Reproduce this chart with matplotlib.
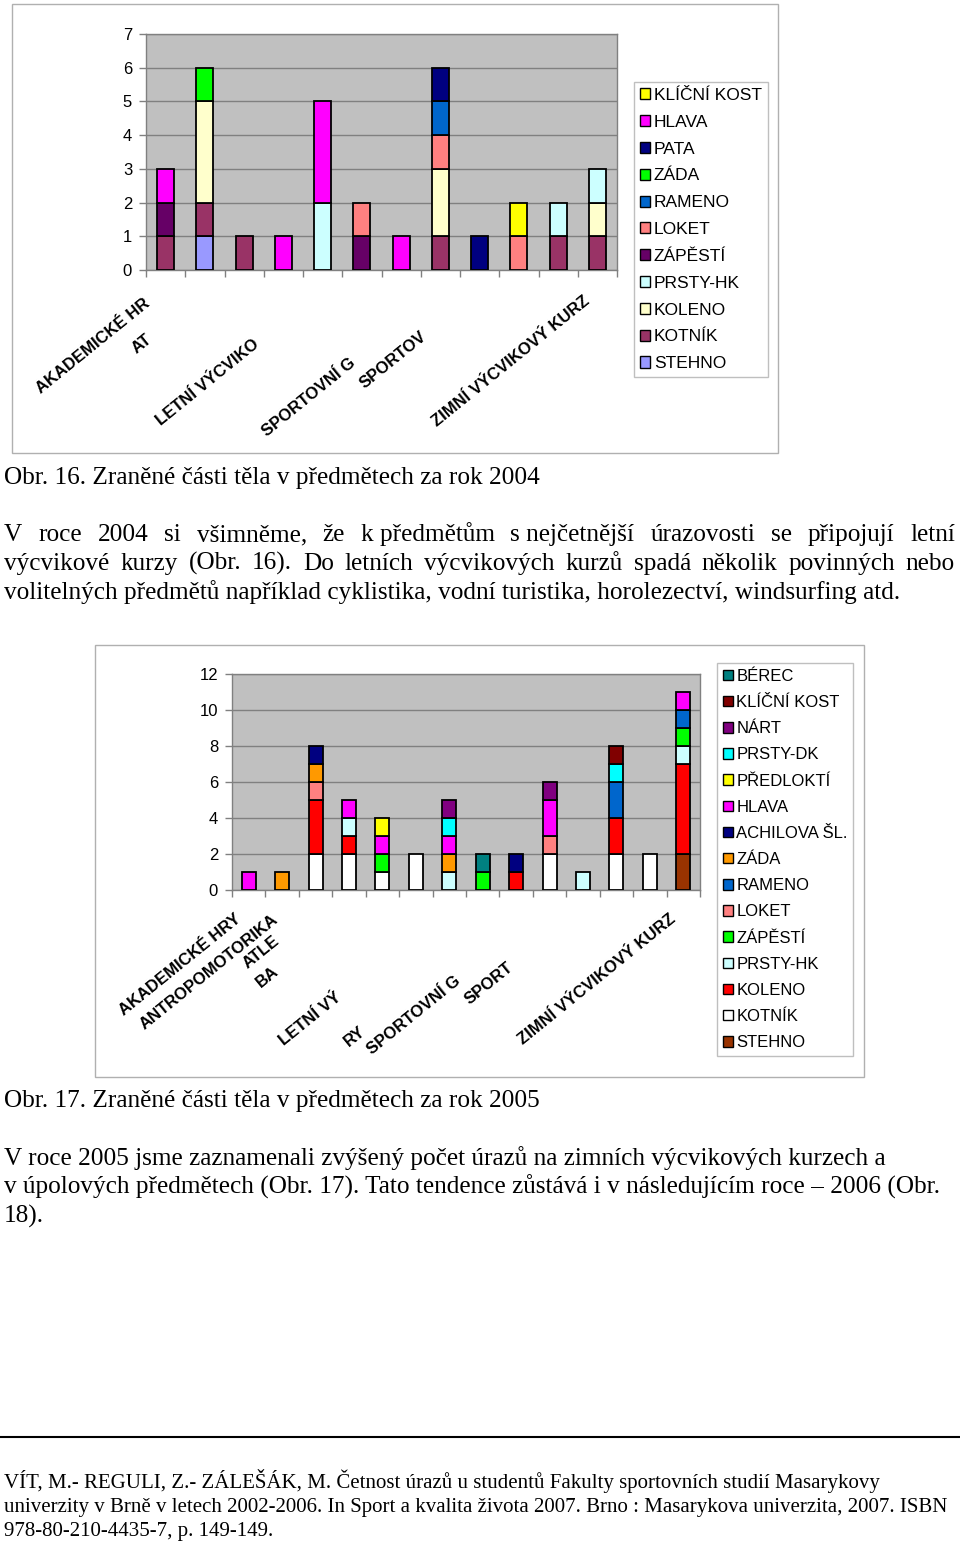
import numpy as np
import matplotlib
matplotlib.use("Agg")
import matplotlib.pyplot as plt
from matplotlib.patches import Rectangle, Patch

W, H = 960, 1541

# ---- graf 2004 (obr. 16), serie od spodu nahoru
cats04_n = 12
s04_names = ["STEHNO", "KOTNÍK", "KOLENO", "PRSTY-HK", "ZÁPĚSTÍ", "LOKET",
             "RAMENO", "ZÁDA", "PATA", "HLAVA", "KLÍČNÍ KOST"]
s04_colors = ["#9999FF", "#993366", "#FFFFCC", "#CCFFFF", "#660066", "#FF8080",
              "#0066CC", "#00FF00", "#000080", "#FF00FF", "#FFFF00"]
stehno04 = [0, 1, 0, 0, 0, 0, 0, 0, 0, 0, 0, 0]
kotnik04 = [1, 1, 1, 0, 0, 0, 0, 1, 0, 0, 1, 1]
koleno04 = [0, 3, 0, 0, 0, 0, 0, 2, 0, 0, 0, 1]
prstyhk04 = [0, 0, 0, 0, 2, 0, 0, 0, 0, 0, 1, 1]
zapesti04 = [1, 0, 0, 0, 0, 1, 0, 0, 0, 0, 0, 0]
loket04 = [0, 0, 0, 0, 0, 1, 0, 1, 0, 1, 0, 0]
rameno04 = [0, 0, 0, 0, 0, 0, 0, 1, 0, 0, 0, 0]
zada04 = [0, 1, 0, 0, 0, 0, 0, 0, 0, 0, 0, 0]
pata04 = [0, 0, 0, 0, 0, 0, 0, 1, 1, 0, 0, 0]
hlava04 = [1, 0, 0, 1, 3, 0, 1, 0, 0, 0, 0, 0]
klicni04 = [0, 0, 0, 0, 0, 0, 0, 0, 0, 1, 0, 0]
s04 = [stehno04, kotnik04, koleno04, prstyhk04, zapesti04, loket04,
       rameno04, zada04, pata04, hlava04, klicni04]
lab04 = ["AKADEMICKÉ HR", "AT", "LETNÍ VÝCVIKO", "SPORTOVNÍ G", "SPORTOV",
         "ZIMNÍ VÝCVIKOVÝ KURZ"]

# ---- graf 2005 (obr. 17)
cats05_n = 14
s05_names = ["STEHNO", "KOTNÍK", "KOLENO", "PRSTY-HK", "ZÁPĚSTÍ", "LOKET",
             "RAMENO", "ZÁDA", "ACHILOVA ŠL.", "HLAVA", "PŘEDLOKTÍ",
             "PRSTY-DK", "NÁRT", "KLÍČNÍ KOST", "BÉREC"]
s05_colors = ["#993300", "#FFFFFF", "#FF0000", "#CCFFFF", "#00FF00", "#FF8080",
              "#0066CC", "#FF9900", "#000080", "#FF00FF", "#FFFF00",
              "#00FFFF", "#800080", "#800000", "#008080"]
stehno05 = [0, 0, 0, 0, 0, 0, 0, 0, 0, 0, 0, 0, 0, 2]
kotnik05 = [0, 0, 2, 2, 1, 2, 0, 0, 0, 2, 0, 2, 2, 0]
koleno05 = [0, 0, 3, 1, 0, 0, 0, 0, 1, 0, 0, 2, 0, 5]
prstyhk05 = [0, 0, 0, 1, 0, 0, 1, 0, 0, 0, 1, 0, 0, 1]
zapesti05 = [0, 0, 0, 0, 1, 0, 0, 1, 0, 0, 0, 0, 0, 1]
loket05 = [0, 0, 1, 0, 0, 0, 0, 0, 0, 1, 0, 0, 0, 0]
rameno05 = [0, 0, 0, 0, 0, 0, 0, 0, 0, 0, 0, 2, 0, 1]
zada05 = [0, 1, 1, 0, 0, 0, 1, 0, 0, 0, 0, 0, 0, 0]
achilova05 = [0, 0, 1, 0, 0, 0, 0, 0, 1, 0, 0, 0, 0, 0]
hlava05 = [1, 0, 0, 1, 1, 0, 1, 0, 0, 2, 0, 0, 0, 1]
predlokti05 = [0, 0, 0, 0, 1, 0, 0, 0, 0, 0, 0, 0, 0, 0]
prstydk05 = [0, 0, 0, 0, 0, 0, 1, 0, 0, 0, 0, 1, 0, 0]
nart05 = [0, 0, 0, 0, 0, 0, 1, 0, 0, 1, 0, 0, 0, 0]
klicni05 = [0, 0, 0, 0, 0, 0, 0, 0, 0, 0, 0, 1, 0, 0]
berec05 = [0, 0, 0, 0, 0, 0, 0, 1, 0, 0, 0, 0, 0, 0]
s05 = [stehno05, kotnik05, koleno05, prstyhk05, zapesti05, loket05, rameno05,
       zada05, achilova05, hlava05, predlokti05, prstydk05, nart05, klicni05,
       berec05]
lab05 = ["AKADEMICKÉ HRY", "ANTROPOMOTORIKA", "ATLE", "BA", "LETNÍ VÝ", "RY",
         "SPORTOVNÍ G", "SPORT", "ZIMNÍ VÝCVIKOVÝ KURZ"]

# texty
cap16 = "Obr. 16. Zraněné části těla v předmětech za rok 2004"
par1 = ["V roce 2004 si všimněme, že k\u00a0předmětům s\u00a0nejčetnější úrazovosti se připojují letní",
        "výcvikové kurzy (Obr. 16). Do letních výcvikových kurzů spadá několik povinných nebo",
        "volitelných předmětů například cyklistika, vodní turistika, horolezectví, windsurfing atd."]
cap17 = "Obr. 17. Zraněné části těla v předmětech za rok 2005"
par2 = ["V roce 2005 jsme zaznamenali zvýšený počet úrazů na zimních výcvikových kurzech a",
        "v úpolových předmětech (Obr. 17). Tato tendence zůstává i v následujícím roce – 2006 (Obr.",
        "18)."]
foot = ["VÍT, M.- REGULI, Z.- ZÁLEŠÁK, M. Četnost úrazů u studentů Fakulty sportovních studií Masarykovy",
        "univerzity v Brně v letech 2002-2006. In Sport a kvalita života 2007. Brno : Masarykova univerzita, 2007. ISBN",
        "978-80-210-4435-7, p. 149-149."]

SANS = "Liberation Sans"
SERIF = "Liberation Serif"

fig = plt.figure(figsize=(W / 100, H / 100), dpi=100)


def fx(x):
    return x / W


def fy(y):
    return 1 - y / H


def box(x0, y0, x1, y1, ec="#b0b0b0", lw=1.0):
    fig.patches.append(Rectangle((fx(x0), fy(y1)), fx(x1) - fx(x0), fy(y0) - fy(y1),
                                 transform=fig.transFigure, fill=False, ec=ec, lw=lw))


def chart(rect, series, names, colors, ymax, ystep, width):
    x0, y0, x1, y1 = rect
    ax = fig.add_axes([fx(x0), fy(y1), fx(x1) - fx(x0), fy(y0) - fy(y1)])
    ax.set_facecolor("#C0C0C0")
    n = len(series[0])
    xs = np.arange(n)
    bottom = np.zeros(n)
    for vals, c in zip(series, colors):
        vals = np.array(vals, dtype=float)
        m = vals > 0
        ax.bar(xs[m], vals[m], width, bottom=bottom[m], color=c,
               edgecolor="black", linewidth=1.3, zorder=3)
        bottom += vals
    ax.set_xlim(-0.5, n - 0.5)
    ax.set_ylim(0, ymax)
    ax.set_yticks(np.arange(0, ymax + 1, ystep))
    ax.set_xticks(np.arange(n + 1) - 0.5)
    ax.set_xticklabels([])
    ax.yaxis.grid(True, color="#808080", lw=1.0, zorder=1)
    ax.set_axisbelow(True)
    for s in ax.spines.values():
        s.set_color("#808080")
        s.set_linewidth(1.0)
    ax.tick_params(axis="both", colors="#808080", length=5, width=1.0,
                   labelcolor="black", labelsize=12)
    for t in ax.get_yticklabels():
        t.set_fontfamily(SANS)
    ax.tick_params(axis="y", pad=5)
    return ax


def legend(ax, names, colors, anchor, fs, spacing):
    handles = [Patch(facecolor=c, edgecolor="black", lw=1.0, label=nm)
               for nm, c in zip(names, colors)][::-1]
    lg = fig.legend(handles=handles, loc="upper left",
                    bbox_to_anchor=(fx(anchor[0]), fy(anchor[1])),
                    bbox_transform=fig.transFigure, frameon=True, fancybox=False,
                    edgecolor="#b0b0b0", handlelength=0.6, handleheight=0.6,
                    handletextpad=0.2, labelspacing=spacing, borderpad=0.35,
                    borderaxespad=0, prop={"family": SANS, "size": fs})
    lg.get_frame().set_linewidth(1.0)


def xlabels(labels, anchors, fs):
    for t, (ax_, ay_) in zip(labels, anchors):
        fig.text(fx(ax_), fy(ay_), t, ha="right", va="center", rotation=39,
                 rotation_mode="anchor", fontsize=fs, fontfamily=SANS,
                 fontweight="bold")


# ----- obr. 16
box(12, 4, 778, 453)
ax1 = chart((146, 34, 617, 270), s04, s04_names, s04_colors, 7, 1, 0.43)
legend(ax1, s04_names, s04_colors, (634, 82), 12.5, 0.68)
xlabels(lab04, [(148, 302), (150, 337), (257, 342), (354, 361), (425, 335), (588, 299)], 12)

# ----- obr. 17
box(95, 645, 864, 1077)
ax2 = chart((232, 674, 700, 890), s05, s05_names, s05_colors, 12, 2, 0.42)
legend(ax2, s05_names, s05_colors, (717, 663), 12, 0.67)
xlabels(lab05, [(239, 917), (276, 918), (277, 939), (277, 969), (339, 995), (364, 1029),
                (459, 979), (511, 966), (674, 917)], 12)

# ----- text stranky
renderer = fig.canvas.get_renderer()


def line(x, y, s, fs):
    return fig.text(fx(x), fy(y), s, ha="left", va="baseline", fontsize=fs,
                    fontfamily=SERIF)


def justify(x0, x1, y, s, fs):
    words = s.split(" ")
    ts = [line(0, y, w, fs) for w in words]
    ws = [t.get_window_extent(renderer).width for t in ts]
    gap = (x1 - x0 - sum(ws)) / (len(words) - 1)
    x = x0
    for t, w in zip(ts, ws):
        t.set_x(fx(x))
        x += w + gap


FS = 18.2
line(4, 484, cap16, FS)
justify(4, 955, 541, par1[0], FS)
justify(4, 955, 570, par1[1], FS)
line(4, 599, par1[2], FS)

line(4, 1107, cap17, FS)
line(4, 1165, par2[0], FS)
line(4, 1194, par2[1], FS)
line(4, 1223, par2[2], FS)

fig.add_artist(plt.Line2D([0, 1], [fy(1437), fy(1437)], transform=fig.transFigure,
                          color="black", lw=1.5))
for i, s in enumerate(foot):
    line(4, 1488 + 24 * i, s, 15)

fig.savefig("out.png", dpi=100)
